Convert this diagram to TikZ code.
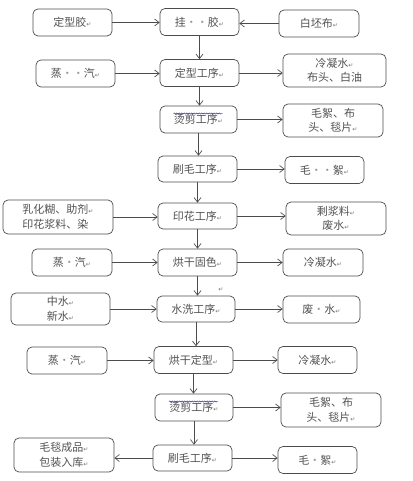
\documentclass[tikz,border=0pt]{standalone}
\usepackage{fontspec}
\setmainfont{Noto Sans CJK SC}
\newfontfamily\symfont{DejaVu Sans}
\usetikzlibrary{arrows.meta, positioning, decorations.pathmorphing}
% Word marks: paragraph end and visible space
\newcommand{\rt}{{\symfont\fontsize{6}{6}\selectfont\color{black!55}↵}}
\newcommand{\sd}{{\color{black!40}·}}

\begin{document}
\begin{tikzpicture}[
    x=1pt, y=-1pt,
    font=\fontsize{11}{14.5}\selectfont,
    st/.style={draw=black!70, line width=0.7pt, rounded corners=5pt, minimum width=79pt, minimum height=27pt, align=center, inner sep=0pt, text=black!68},
    flow/.style={-{Straight Barb[length=4.5pt,width=7pt]}, draw=black!70, line width=0.7pt},
    wavy/.style={draw=blue!60!black, line width=0.4pt, decorate, decoration={snake, amplitude=0.6pt, segment length=2.5pt}},
]
\useasboundingbox (0,0) rectangle (412,481);
% main line
\node[st] (gua) at (199.5,22) {挂\sd\sd 胶\rt};
\node[st] (dx1) at (199.5,73) {定型工序\rt};
\node[st, minimum width=77pt] (tj1) at (198.5,119.5) {烫剪工序\rt};
\node[st, minimum height=26pt] (sm1) at (197.5,169) {刷毛工序\rt};
\node[st, minimum height=26pt] (yh) at (197.5,216) {印花工序\rt};
\node[st] (gs) at (197.5,262.5) {烘干固色\rt};
\node[st, minimum width=78pt, minimum height=26pt] (sx) at (196,309) {水洗工序\rt};
\node[st] (dx2) at (193.5,360) {烘干定型\rt};
\node[st, minimum width=78pt] (tj2) at (194,407.5) {烫剪工序\rt};
\node[st, minimum height=26pt] (sm2) at (192.5,458) {刷毛工序\rt};
% inputs
\node[st] (glue) at (72.5,22.5) {定型胶\rt};
\node[st, minimum width=80pt] (bai) at (319,23.5) {白坯布\rt};
\node[st] (steam1) at (75.5,73.5) {蒸\sd\sd 汽\rt};
\node[st, minimum width=110pt, minimum height=34pt, align=left] (paste) at (58,217) {乳化糊、助剂\rt\\印花浆料、染};
\node[st, minimum width=80pt] (steam2) at (72,262.5) {蒸\sd 汽\rt};
\node[st, minimum width=99pt, minimum height=32pt, align=left] (water) at (60.5,309) {中水\rt\\新水\rt};
\node[st, minimum width=80pt] (steam3) at (67,360.5) {蒸\sd 汽\rt};
% outputs
\node[st, minimum width=103pt, minimum height=33pt] (cond1) at (334.5,70.5) {冷凝水\rt\\布头、白油};
\node[st, minimum width=100pt, minimum height=33pt] (fluff1) at (333,120.5) {毛絮、布\\头、毯片\rt};
\node[st] (mao1) at (324.5,170) {毛\sd\sd 絮\rt};
\node[st, minimum width=100pt, minimum height=33pt] (slurry) at (336,218.5) {剩浆料\rt\\废水\rt};
\node[st, minimum width=80pt] (cond2) at (323,262.5) {冷凝水\rt};
\node[st, minimum width=77pt] (waste) at (321.5,309.5) {废\sd 水\rt};
\node[st] (cond3) at (317.5,360) {冷凝水\rt};
\node[st, minimum width=100pt, minimum height=34pt] (fluff2) at (331,410) {毛絮、布\\头、毯片\rt};
\node[st] (mao2) at (317.5,460) {毛\sd 絮\rt};
\node[st, minimum width=100pt, minimum height=34pt] (prod) at (64,455) {毛毯成品\rt\\包装入库\rt};
\node (stray) at (221,290) {\rt};
% spell-check marks
\draw[wavy] ([xshift=-25pt,yshift=6pt]tj1.center) -- ([xshift=24pt,yshift=6pt]tj1.center);
\draw[wavy] ([xshift=-25pt,yshift=6pt]tj2.center) -- ([xshift=24pt,yshift=6pt]tj2.center);
% connectors
\foreach \a/\b in {gua/dx1, dx1/tj1, tj1/sm1, sm1/yh, yh/gs, gs/sx, sx/dx2, dx2/tj2, tj2/sm2}
  \draw[flow] (\a.south) -- (\a.south |- \b.north);
\foreach \a/\b in {glue/gua, steam1/dx1, paste/yh, steam2/gs, water/sx, steam3/dx2}
  \draw[flow] (\a.east) -- (\a.east -| \b.west);
\draw[flow] (bai.west) -- (bai.west -| gua.east);
\foreach \a/\b in {dx1/cond1, tj1/fluff1, sm1/mao1, yh/slurry, gs/cond2, sx/waste, dx2/cond3, tj2/fluff2, sm2/mao2}
  \draw[flow] (\a.east) -- (\a.east -| \b.west);
\draw[flow] (sm2.west) -- (sm2.west -| prod.east);
\end{tikzpicture}
\end{document}
